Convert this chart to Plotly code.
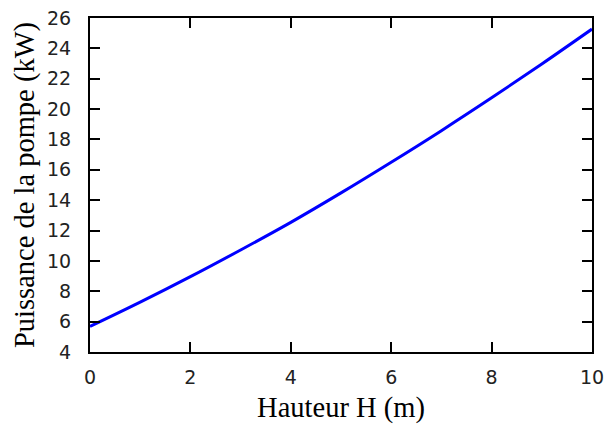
import plotly.graph_objects as go

# Data
hauteur_m = [0, 1, 2, 3, 4, 5, 6, 7, 8, 9, 10]
puissance_kw = [5.68, 7.28, 8.96, 10.72, 12.54, 14.48, 16.50, 18.58, 20.74, 22.97, 25.27]

x_ticks = [0, 2, 4, 6, 8, 10]
y_ticks = [4, 6, 8, 10, 12, 14, 16, 18, 20, 22, 24, 26]

x_title = "Hauteur H (m)"
y_title = "Puissance de la pompe (kW)"

fig = go.Figure()
fig.add_trace(go.Scatter(
    x=hauteur_m, y=puissance_kw, mode="lines",
    line=dict(color="rgb(0,0,255)", width=3, shape="spline"),
    showlegend=False, hoverinfo="skip",
))

tick_font = dict(family="DejaVu Sans", size=19, color="#222")
title_font = dict(family="Liberation Serif", size=28.5, color="black")

fig.update_layout(
    width=606, height=430,
    margin=dict(l=89.5, r=14, t=17.7, b=77.7, autoexpand=False),
    paper_bgcolor="white", plot_bgcolor="white",
)
fig.update_xaxes(
    range=[0, 10], tickvals=x_ticks, ticktext=[str(v) for v in x_ticks],
    ticks="inside", ticklen=10, tickwidth=1.5, tickcolor="black",
    showline=True, linecolor="black", linewidth=2, mirror="ticks",
    showgrid=False, zeroline=False, tickfont=tick_font,
    ticklabelstandoff=7, automargin=False,
    title=dict(text=x_title, font=title_font, standoff=10),
)
fig.update_yaxes(
    range=[4, 26], tickvals=y_ticks, ticktext=[str(v) for v in y_ticks],
    ticks="inside", ticklen=10, tickwidth=1.5, tickcolor="black",
    showline=True, linecolor="black", linewidth=2, mirror="ticks",
    showgrid=False, zeroline=False, tickfont=tick_font,
    ticklabelstandoff=13, automargin=False,
    title=dict(text=y_title, font=title_font, standoff=4),
)

fig.write_html(
    "out.html",
    config={"displayModeBar": False},
    post_script="document.body.style.margin='0';document.body.style.padding='0';",
)
